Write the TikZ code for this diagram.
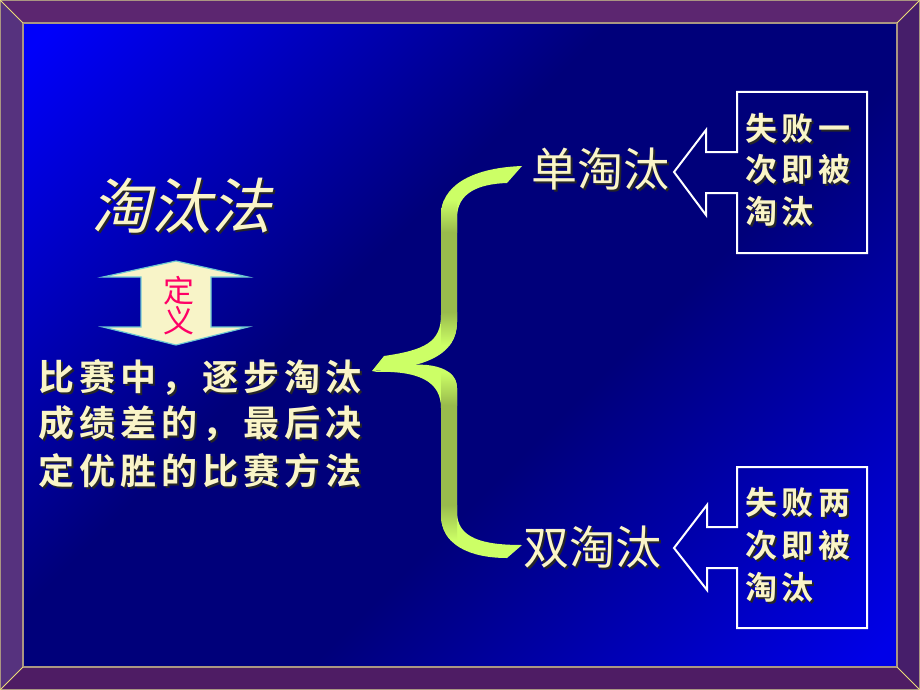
\documentclass[tikz,border=0pt]{standalone}
\usepackage{fontspec}
\usepackage{tikz}
\usetikzlibrary{calc,positioning}

\newfontfamily\cjk{Noto Sans CJK SC}
\newfontfamily\cjkit[FakeSlant=0.22]{Noto Sans CJK SC}
\newfontfamily\cjkbold[LetterSpace=14]{Noto Sans CJK SC Bold}

\definecolor{bgbright}{RGB}{0,0,250}
\definecolor{bgbrightb}{RGB}{0,0,232}
\definecolor{bgdark}{RGB}{0,0,122}
\pgfdeclarehorizontalshading{bgshade}{100bp}{color(0bp)=(bgbright); color(16bp)=(bgbright); color(42bp)=(bgdark); color(58bp)=(bgdark); color(84bp)=(bgbrightb); color(100bp)=(bgbrightb)}

% text with a drop shadow
\newcommand\castsh[1]{\leavevmode\rlap{\kern2pt\raisebox{-2pt}{\color{black!85}#1}}#1}

\begin{document}
\begin{tikzpicture}[
        x=1pt,y=-1pt,
        every node/.style={inner sep=0pt},
        txt/.style={text=cream},
        deftext/.style={font=\cjkbold\fontsize{36}{36}\selectfont,anchor=west},
        boxtext/.style={font=\cjkbold\fontsize{32}{32}\selectfont,anchor=west},
        kind/.style={font=\cjk\fontsize{46}{46}\selectfont},
        callout/.style={draw=white,line width=2pt,line join=miter}
    ]
        \definecolor{cream}{RGB}{250,245,200}
        \definecolor{rimtop}{RGB}{92,38,112}
        \definecolor{rimleft}{RGB}{86,50,126}
        \definecolor{rimright}{RGB}{70,30,106}
        \definecolor{rimbottom}{RGB}{78,28,100}
        \definecolor{rimline}{RGB}{170,150,130}
        \definecolor{rimcorner}{RGB}{235,220,120}
        \definecolor{limex}{RGB}{204,255,102}
        \definecolor{olivex}{RGB}{153,187,76}
        \definecolor{paper}{RGB}{248,244,200}
        \definecolor{cyx}{RGB}{110,200,210}
        \definecolor{pinkx}{RGB}{255,0,102}

        % frame
        \useasboundingbox (0,0) rectangle (920,690);
        \fill[rimtop]    (0,0) -- (920,0) -- (897,23) -- (23,23) -- cycle;
        \fill[rimleft]   (0,0) -- (23,23) -- (23,667) -- (0,690) -- cycle;
        \fill[rimright]  (920,0) -- (920,690) -- (897,667) -- (897,23) -- cycle;
        \fill[rimbottom] (0,690) -- (920,690) -- (897,667) -- (23,667) -- cycle;
        \shade[shading=bgshade,shading angle=-45] (23,23) rectangle (897,667);
        \draw[rimline,line width=1pt] (0.5,0.5) rectangle (919.5,689.5);
        \draw[rimline,line width=1.2pt] (23,23) rectangle (897,667);
        \draw[rimcorner,line width=0.8pt] (0,0) -- (23,23) (920,0) -- (897,23)
            (0,690) -- (23,667) (920,690) -- (897,667);

        % brace
        \begin{scope}
            \clip (372,371) -- (384,356) .. controls (425,350) and (441,342) .. (441,315)
                -- (441,215) .. controls (441,188) and (468,168) .. (522,166)
                -- (507,183) .. controls (478,184) and (457,193) .. (457,218)
                -- (457,322) .. controls (457,355) and (425,368) .. (372,371) -- cycle;
            \fill[limex] (360,150) rectangle (530,380);
            \shade[top color=limex,bottom color=olivex] (441,200) rectangle (457,232);
            \fill[olivex] (441,232) rectangle (457,312);
            \shade[top color=olivex,bottom color=limex] (441,312) rectangle (457,345);
        \end{scope}
        \begin{scope}
            \clip (372,372) .. controls (420,370) and (441,382) .. (441,408)
                -- (441,515) .. controls (441,545) and (470,558) .. (507,558)
                -- (522,545) .. controls (482,545) and (457,538) .. (457,512)
                -- (457,388) .. controls (457,366) and (425,360) .. (392,368) -- cycle;
            \fill[limex] (360,360) rectangle (530,570);
            \shade[top color=limex,bottom color=olivex] (441,372) rectangle (457,405);
            \fill[olivex] (441,405) rectangle (457,505);
            \shade[top color=olivex,bottom color=limex] (441,505) rectangle (457,540);
        \end{scope}

        % title
        \node[txt,font=\cjkit\fontsize{60}{60}\selectfont] (title) at (181,207) {\castsh{淘汰法}};

        % double arrow
        \draw[cyx,fill=paper,line width=1.2pt] (176,261) -- (248,277) -- (211,277) -- (211,327)
            -- (248,327) -- (176,345) -- (103,327) -- (141,327) -- (141,277) -- (103,277) -- cycle;
        \node[text=pinkx,font=\cjk\fontsize{31}{31}\selectfont] (ding) at (179,291) {定};
        \node[text=pinkx,font=\cjk\fontsize{31}{31}\selectfont] (yi) at (179,321) {义};

        % definition
        \node[txt,deftext] (def1) at (38,378) {\castsh{比赛中，逐步淘汰}};
        \node[txt,deftext] (def2) at (38,425) {\castsh{成绩差的，最后决}};
        \node[txt,deftext] (def3) at (38,472) {\castsh{定优胜的比赛方法}};

        % kinds
        \node[txt,kind] (single) at (600,170) {\castsh{单淘汰}};
        \node[txt,kind] (double) at (592,548) {\castsh{双淘汰}};

        % callouts
        \draw[callout] (737,92) -- (867,92) -- (867,253) -- (737,253) -- (737,193) -- (706,193)
            -- (706,215) -- (674,172) -- (706,130) -- (706,152) -- (737,152) -- cycle;
        \node[txt,boxtext] (s1) at (745,129) {\castsh{失败一}};
        \node[txt,boxtext] (s2) at (745,170) {\castsh{次即被}};
        \node[txt,boxtext] (s3) at (745,212) {\castsh{淘汰}};

        \draw[callout] (737,467) -- (867,467) -- (867,628) -- (737,628) -- (737,568) -- (707,568)
            -- (707,590) -- (674,548) -- (707,505) -- (707,527) -- (737,527) -- cycle;
        \node[txt,boxtext] (d1) at (745,503) {\castsh{失败两}};
        \node[txt,boxtext] (d2) at (745,546) {\castsh{次即被}};
        \node[txt,boxtext] (d3) at (745,588) {\castsh{淘汰}};
\end{tikzpicture}
\end{document}
